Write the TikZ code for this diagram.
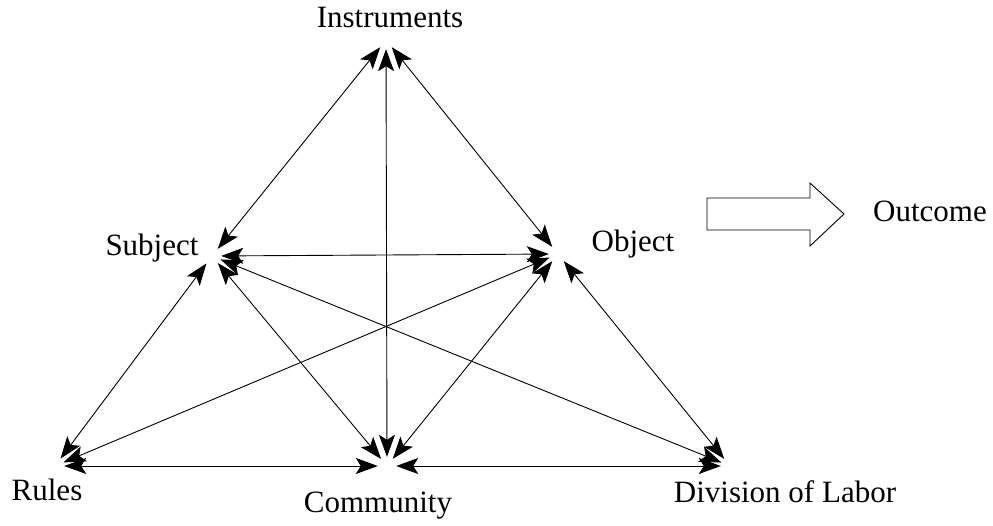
\documentclass[tikz,border=0pt]{standalone}
\usepackage{fontspec}
\setmainfont{Liberation Serif}
\usetikzlibrary{arrows.meta}
\tikzset{
  every vertex/.style={circle, minimum size=18pt, inner sep=0pt},
  every label/.style={anchor=base, inner sep=0pt, font=\fontsize{31}{37}\selectfont},
  link/.style={<->, line width=0.9pt}
}
\begin{document}
\begin{tikzpicture}[x=1pt, y=-1pt, >={Stealth[length=22pt,width=16pt,inset=5pt]}]
            \useasboundingbox (0,0) rectangle (993,526);
            % corners and mid points of the triangle
            \foreach \n/\x/\y in {inst/386/40, subj/212/256, obj/558/254,
                                  rules/55/466, comm/387/466, div/730/466}
              \node [every vertex] (\n) at (\x,\y) {};
            % labels
            \foreach \n/\x/\y/\t in {inst/390/28/Instruments, subj/152/256/Subject,
                                     obj/633/252/Object, rules/47/500/Rules,
                                     comm/378/512/Community, div/785/502/Division of Labor,
                                     out/930/222/Outcome}
              \node [every label] (\n-label) at (\x,\y) {\t};
            % links
            \foreach \a/\b in {inst/subj, inst/comm, inst/obj, subj/obj,
                               subj/rules, subj/comm, subj/div,
                               obj/rules, obj/comm, obj/div,
                               rules/comm, comm/div}
              \draw [link] (\a) -- (\b);
            % outcome arrow
            \draw [line width=0.9pt] (707,198) -- (810,198) -- (810,183) -- (844,214)
              -- (810,246) -- (810,230) -- (707,230) -- cycle;
\end{tikzpicture}
\end{document}
